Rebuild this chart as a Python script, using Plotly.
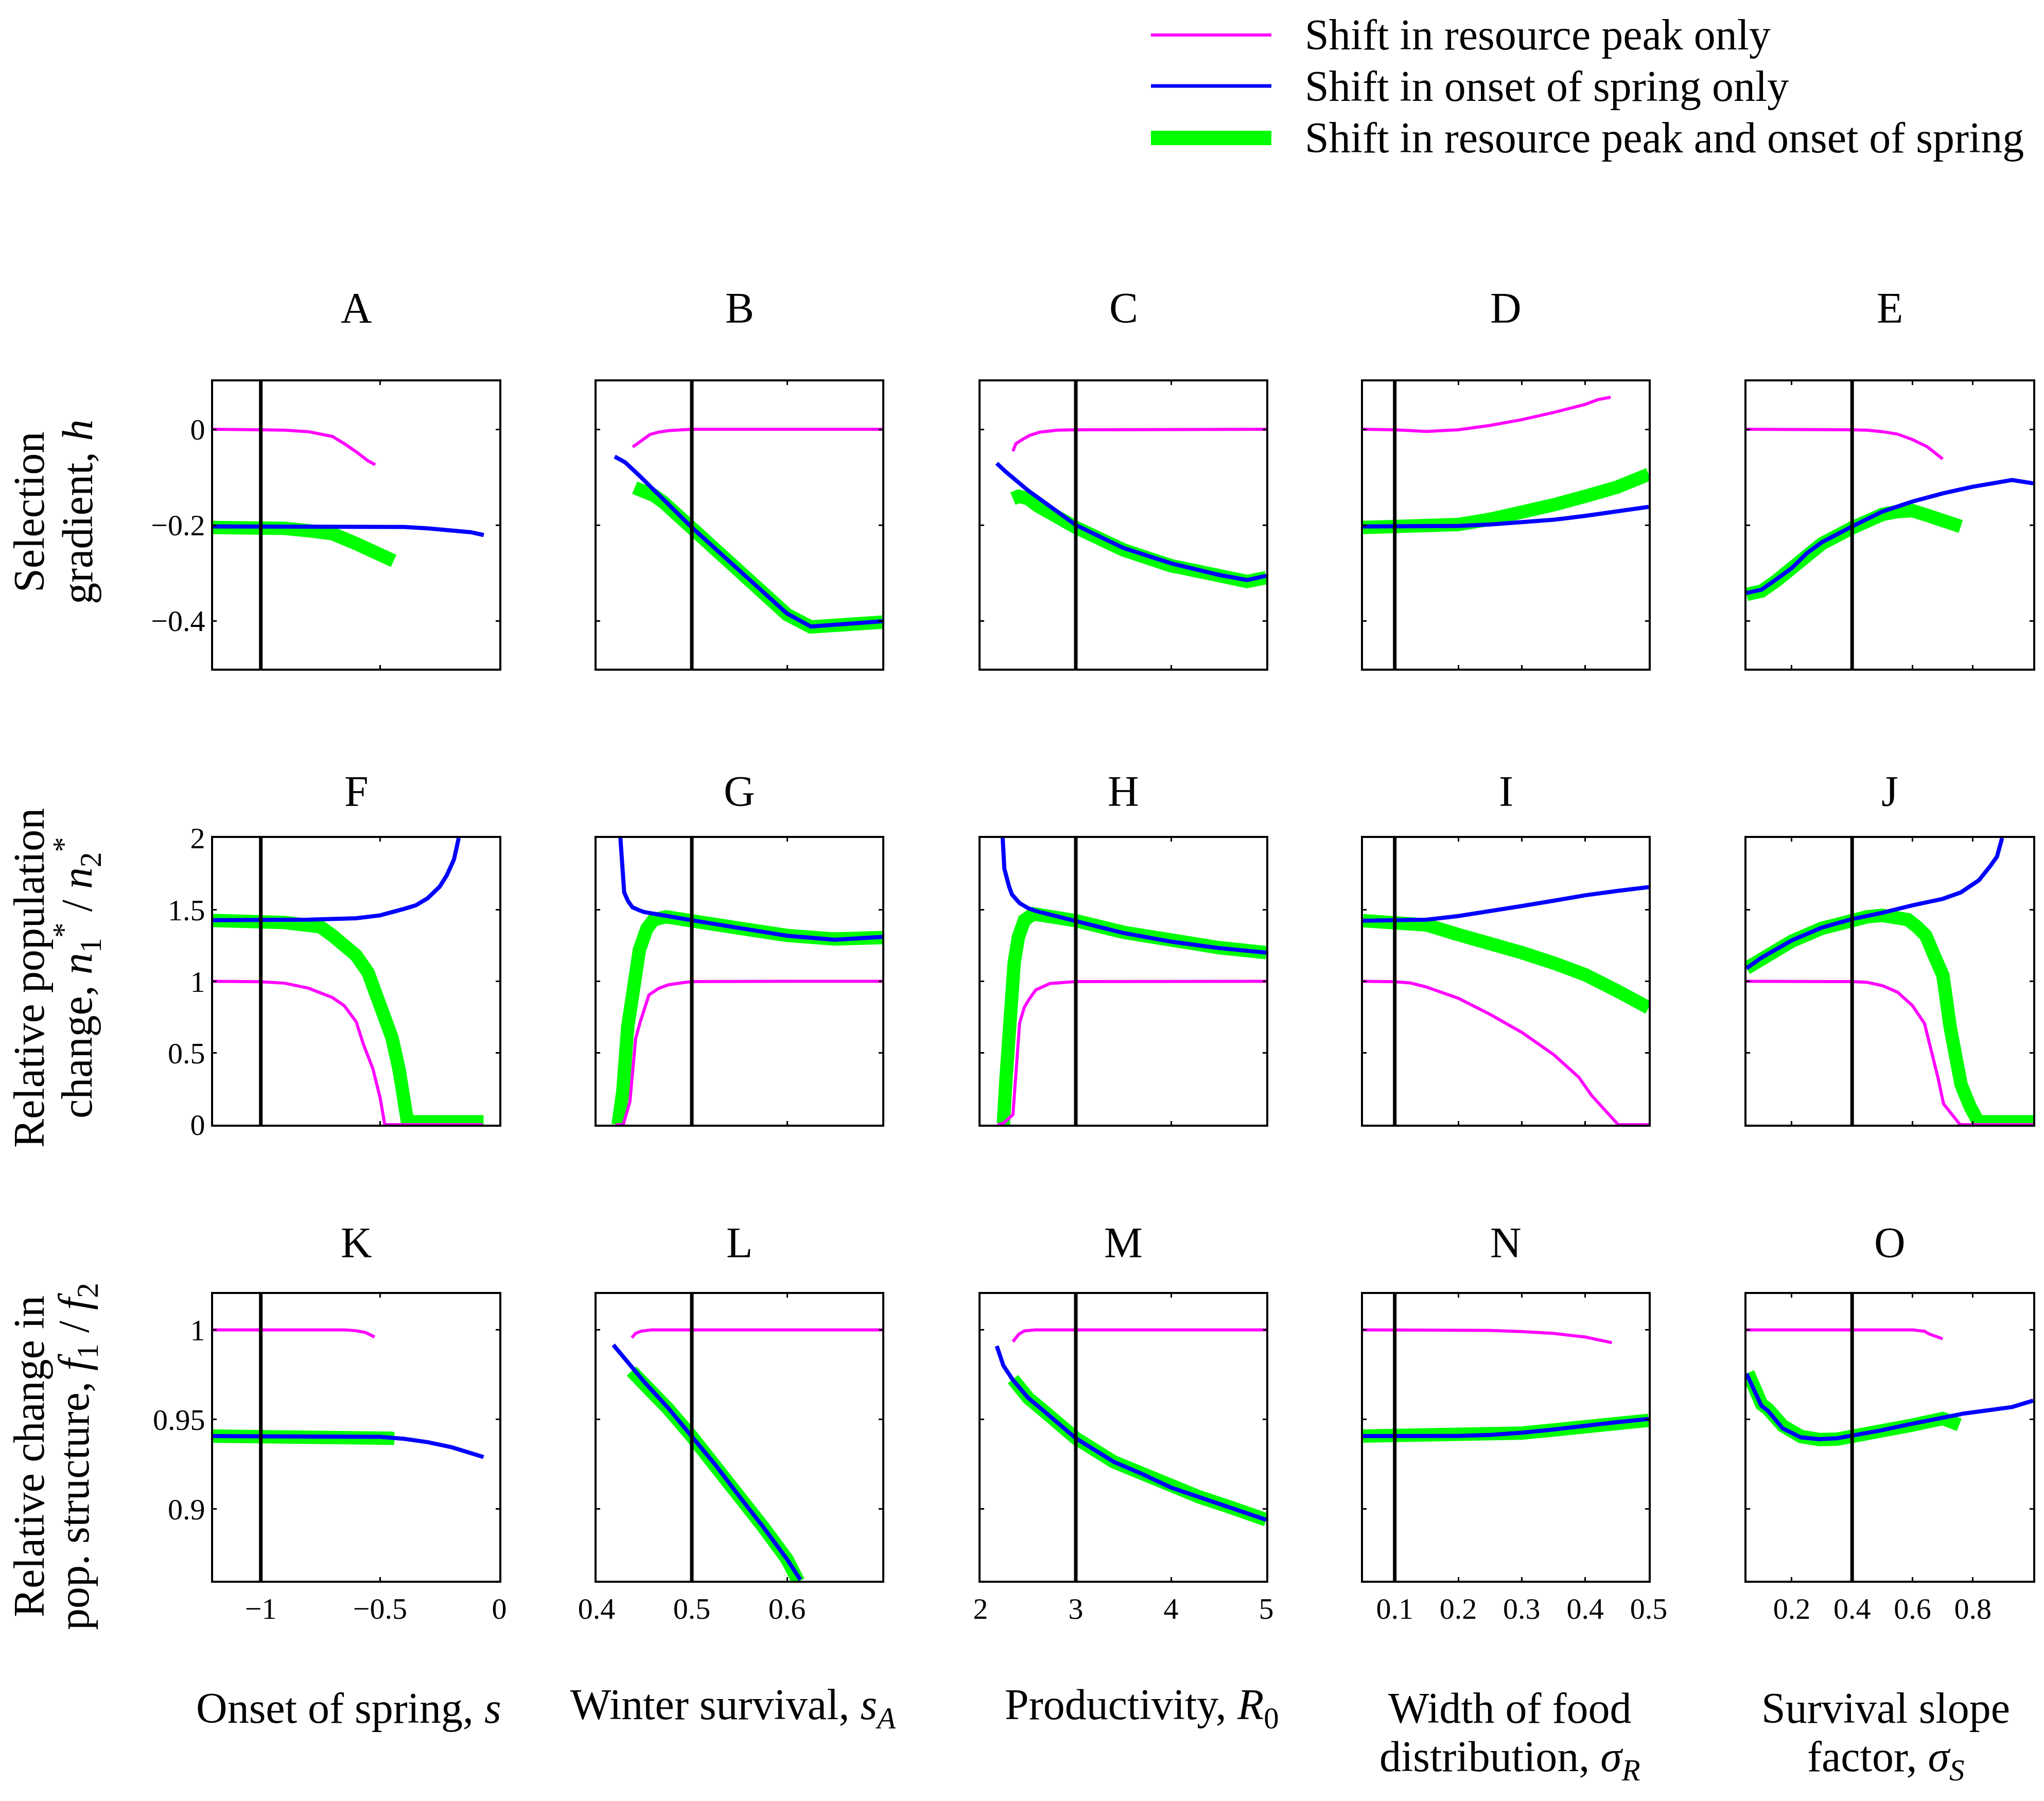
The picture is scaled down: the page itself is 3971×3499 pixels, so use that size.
import plotly.graph_objects as go
from plotly.subplots import make_subplots

# values
# peak = shift in resource peak only, spring = shift in onset of spring only,
# both = shift in resource peak and onset of spring

# row 1: selection gradient h
A_peak_x = [-1.2, -1.1, -1.0, -0.9, -0.8, -0.7, -0.65, -0.6, -0.55, -0.52]
A_peak_y = [0.0, 0.0, -0.001, -0.002, -0.005, -0.015, -0.030, -0.047, -0.066, -0.074]
A_spring_x = [-1.2, -1.0, -0.8, -0.6, -0.4, -0.3, -0.2, -0.12, -0.065]
A_spring_y = [-0.203, -0.203, -0.203, -0.203, -0.204, -0.207, -0.212, -0.215, -0.221]
A_both_x = [-1.2, -1.0, -0.9, -0.8, -0.7, -0.6, -0.5, -0.443]
A_both_y = [-0.205, -0.205, -0.207, -0.212, -0.218, -0.239, -0.261, -0.275]

B_peak_x = [0.438, 0.445, 0.456, 0.465, 0.475, 0.49, 0.5, 0.55, 0.6, 0.7]
B_peak_y = [-0.037, -0.027, -0.011, -0.006, -0.003, -0.001, 0.0, 0.0, 0.0, 0.0]
B_spring_x = [0.419, 0.43, 0.445, 0.5, 0.55, 0.6, 0.625, 0.65, 0.7]
B_spring_y = [-0.057, -0.069, -0.097, -0.205, -0.295, -0.385, -0.412, -0.408, -0.401]
B_both_x = [0.44, 0.448, 0.46, 0.47, 0.5, 0.55, 0.6, 0.625, 0.7]
B_both_y = [-0.122, -0.128, -0.138, -0.152, -0.207, -0.297, -0.387, -0.413, -0.403]

C_peak_x = [2.34, 2.37, 2.45, 2.52, 2.62, 2.8, 3.0, 4.0, 5.0]
C_peak_y = [-0.046, -0.030, -0.020, -0.0125, -0.006, -0.002, -0.001, 0.0, 0.0]
C_spring_x = [2.17, 2.26, 2.5, 3.0, 3.5, 4.0, 4.5, 4.8, 5.0]
C_spring_y = [-0.071, -0.088, -0.128, -0.2, -0.248, -0.280, -0.304, -0.315, -0.306]
C_both_x = [2.34, 2.4, 2.5, 2.6, 3.0, 3.5, 4.0, 4.5, 4.8, 5.0]
C_both_y = [-0.145, -0.14, -0.145, -0.16, -0.205, -0.252, -0.285, -0.308, -0.318, -0.31]

D_peak_x = [0.05, 0.1, 0.15, 0.2, 0.25, 0.3, 0.35, 0.4, 0.42, 0.44]
D_peak_y = [0.0, -0.001, -0.0045, -0.001, 0.008, 0.02, 0.035, 0.052, 0.062, 0.067]
D_spring_x = [0.05, 0.1, 0.15, 0.2, 0.25, 0.3, 0.35, 0.4, 0.45, 0.5]
D_spring_y = [-0.203, -0.203, -0.203, -0.202, -0.199, -0.195, -0.189, -0.181, -0.172, -0.162]
D_both_x = [0.05, 0.1, 0.15, 0.2, 0.25, 0.3, 0.35, 0.4, 0.45, 0.5]
D_both_y = [-0.205, -0.205, -0.204, -0.199, -0.188, -0.175, -0.158, -0.140, -0.121, -0.094]

E_peak_x = [0.05, 0.2, 0.3, 0.4, 0.45, 0.5, 0.55, 0.6, 0.65, 0.7]
E_peak_y = [0.0, 0.0, 0.0, -0.001, -0.002, -0.005, -0.010, -0.0215, -0.037, -0.062]
E_spring_x = [0.05, 0.1, 0.15, 0.2, 0.25, 0.3, 0.4, 0.5, 0.6, 0.7, 0.8, 0.9, 0.93, 1.0]
E_spring_y = [-0.342, -0.335, -0.313, -0.29, -0.259, -0.236, -0.203, -0.172, -0.151, -0.134, -0.12, -0.108, -0.106, -0.113]
E_both_x = [0.05, 0.1, 0.15, 0.2, 0.25, 0.3, 0.4, 0.5, 0.55, 0.6, 0.65, 0.7, 0.76]
E_both_y = [-0.345, -0.338, -0.316, -0.293, -0.262, -0.239, -0.206, -0.178, -0.172, -0.170, -0.180, -0.192, -0.203]

# row 2: relative population change n1*/n2*
F_peak_x = [-1.2, -1.0, -0.9, -0.8, -0.7, -0.65, -0.6, -0.57, -0.53, -0.5, -0.48, -0.4, -0.2, -0.07]
F_peak_y = [1.0, 0.997, 0.987, 0.952, 0.887, 0.83, 0.718, 0.562, 0.39, 0.19, 0.0, 0.0, 0.0, 0.0]
F_spring_x = [-1.2, -1.0, -0.8, -0.6, -0.5, -0.4, -0.35, -0.3, -0.25, -0.22, -0.19, -0.17]
F_spring_y = [1.426, 1.426, 1.43, 1.44, 1.46, 1.505, 1.53, 1.58, 1.66, 1.74, 1.85, 2.0]
F_both_x = [-1.2, -1.0, -0.9, -0.8, -0.75, -0.7, -0.65, -0.6, -0.55, -0.5, -0.45, -0.42, -0.4, -0.385, -0.3, -0.2, -0.066]
F_both_y = [1.425, 1.42, 1.41, 1.39, 1.38, 1.32, 1.25, 1.18, 1.06, 0.86, 0.607, 0.383, 0.19, 0.02, 0.02, 0.02, 0.02]

G_peak_x = [0.42, 0.428, 0.435, 0.441, 0.446, 0.455, 0.465, 0.475, 0.49, 0.5, 0.6, 0.7]
G_peak_y = [0.0, 0.0, 0.16, 0.6, 0.72, 0.905, 0.95, 0.975, 0.99, 0.998, 1.0, 1.0]
G_spring_x = [0.425, 0.427, 0.429, 0.433, 0.4377, 0.445, 0.45, 0.5, 0.55, 0.6, 0.65, 0.7]
G_spring_y = [2.0, 1.85, 1.62, 1.56, 1.516, 1.495, 1.483, 1.426, 1.37, 1.318, 1.29, 1.31]
G_both_x = [0.4226, 0.4276, 0.4327, 0.4377, 0.445, 0.4528, 0.46, 0.473, 0.5, 0.55, 0.6, 0.65, 0.7]
G_both_y = [0.0, 0.234, 0.68, 0.98, 1.22, 1.367, 1.43, 1.45, 1.43, 1.37, 1.32, 1.295, 1.305]

H_peak_x = [2.18, 2.24, 2.34, 2.37, 2.41, 2.46, 2.51, 2.58, 2.73, 3.0, 4.0, 5.0]
H_peak_y = [0.0, 0.01, 0.07, 0.38, 0.71, 0.82, 0.875, 0.94, 0.985, 0.998, 1.0, 1.0]
H_spring_x = [2.232, 2.24, 2.25, 2.3, 2.33, 2.41, 2.5, 2.58, 3.0, 3.5, 4.0, 4.5, 5.0]
H_spring_y = [2.0, 1.9, 1.784, 1.66, 1.605, 1.545, 1.51, 1.49, 1.419, 1.337, 1.277, 1.232, 1.2]
H_both_x = [2.2, 2.24, 2.266, 2.29, 2.32, 2.353, 2.397, 2.46, 2.556, 2.68, 3.0, 3.5, 4.0, 4.5, 5.0]
H_both_y = [0.0, 0.01, 0.31, 0.607, 0.905, 1.128, 1.307, 1.426, 1.47, 1.46, 1.423, 1.342, 1.28, 1.235, 1.2]

I_peak_x = [0.05, 0.1, 0.125, 0.15, 0.2, 0.25, 0.3, 0.33, 0.35, 0.37, 0.39, 0.41, 0.43, 0.452, 0.5]
I_peak_y = [1.0, 0.997, 0.988, 0.96, 0.882, 0.77, 0.644, 0.554, 0.49, 0.41, 0.33, 0.204, 0.105, 0.0, 0.0]
I_spring_x = [0.05, 0.1, 0.15, 0.2, 0.25, 0.3, 0.35, 0.4, 0.45, 0.5]
I_spring_y = [1.423, 1.423, 1.43, 1.455, 1.488, 1.525, 1.562, 1.6, 1.63, 1.657]
I_both_x = [0.05, 0.1, 0.15, 0.2, 0.25, 0.3, 0.35, 0.4, 0.45, 0.5]
I_both_y = [1.423, 1.418, 1.393, 1.326, 1.27, 1.2, 1.128, 1.046, 0.934, 0.815]

J_peak_x = [0.05, 0.2, 0.4, 0.45, 0.5, 0.55, 0.6, 0.64, 0.66, 0.685, 0.703, 0.73, 0.758, 0.9, 1.0]
J_peak_y = [1.0, 1.0, 0.998, 0.993, 0.97, 0.925, 0.83, 0.705, 0.54, 0.323, 0.145, 0.07, 0.0, 0.0, 0.0]
J_spring_x = [0.05, 0.1, 0.2, 0.3, 0.4, 0.5, 0.6, 0.7, 0.76, 0.82, 0.86, 0.88, 0.897]
J_spring_y = [1.091, 1.165, 1.285, 1.375, 1.434, 1.478, 1.53, 1.575, 1.62, 1.705, 1.81, 1.87, 2.0]
J_both_x = [0.05, 0.1, 0.2, 0.3, 0.4, 0.45, 0.5, 0.55, 0.585, 0.615, 0.644, 0.67, 0.701, 0.725, 0.745, 0.761, 0.79, 0.818, 0.9, 1.0]
J_both_y = [1.091, 1.16, 1.28, 1.37, 1.43, 1.45, 1.46, 1.455, 1.43, 1.38, 1.32, 1.19, 1.04, 0.68, 0.45, 0.28, 0.13, 0.02, 0.02, 0.02]

# row 3: relative change in population structure f1/f2
K_peak_x = [-1.2, -0.8, -0.65, -0.6, -0.56, -0.523]
K_peak_y = [1.0, 1.0, 1.0, 0.9995, 0.9985, 0.996]
K_spring_x = [-1.2, -0.8, -0.6, -0.5, -0.4, -0.3, -0.2, -0.12, -0.066]
K_spring_y = [0.9407, 0.9407, 0.9406, 0.9403, 0.9392, 0.9373, 0.9345, 0.9315, 0.929]
K_both_x = [-1.2, -1.0, -0.8, -0.6, -0.5, -0.44]
K_both_y = [0.9407, 0.9407, 0.9407, 0.9405, 0.9402, 0.9395]

L_peak_x = [0.437, 0.441, 0.447, 0.458, 0.5, 0.7]
L_peak_y = [0.9956, 0.998, 0.9993, 1.0, 1.0, 1.0]
L_spring_x = [0.4176, 0.425, 0.4327, 0.45, 0.475, 0.5, 0.525, 0.55, 0.575, 0.6, 0.614]
L_spring_y = [0.9916, 0.987, 0.9814, 0.971, 0.9565, 0.9405, 0.9245, 0.907, 0.890, 0.872, 0.8605]
L_both_x = [0.4367, 0.45, 0.475, 0.5, 0.525, 0.55, 0.575, 0.6, 0.612]
L_both_y = [0.977, 0.9705, 0.956, 0.9405, 0.9245, 0.907, 0.89, 0.872, 0.8595]

M_peak_x = [2.34, 2.37, 2.4, 2.46, 2.58, 3.0, 5.0]
M_peak_y = [0.9934, 0.9955, 0.9975, 0.9994, 1.0, 1.0, 1.0]
M_spring_x = [2.17, 2.24, 2.34, 2.5, 2.68, 3.0, 3.4, 3.7, 4.0, 4.3, 4.6, 5.0]
M_spring_y = [0.991, 0.980, 0.972, 0.962, 0.954, 0.9395, 0.9263, 0.9195, 0.912, 0.9067, 0.9014, 0.894]
M_both_x = [2.34, 2.5, 2.68, 3.0, 3.4, 3.7, 4.0, 4.3, 4.6, 5.0]
M_both_y = [0.9725, 0.962, 0.954, 0.9395, 0.9263, 0.9195, 0.912, 0.9067, 0.9014, 0.894]

N_peak_x = [0.05, 0.1, 0.2, 0.25, 0.3, 0.35, 0.4, 0.442]
N_peak_y = [1.0, 1.0, 1.0, 0.9997, 0.999, 0.998, 0.996, 0.9928]
N_spring_x = [0.05, 0.1, 0.15, 0.2, 0.25, 0.3, 0.35, 0.4, 0.45, 0.5]
N_spring_y = [0.9407, 0.9407, 0.9407, 0.9408, 0.9414, 0.9426, 0.9444, 0.9466, 0.9485, 0.9503]
N_both_x = [0.05, 0.1, 0.15, 0.2, 0.25, 0.3, 0.35, 0.4, 0.45, 0.5]
N_both_y = [0.9407, 0.9407, 0.9407, 0.9408, 0.9413, 0.9424, 0.9441, 0.946, 0.9478, 0.9495]

O_peak_x = [0.05, 0.3, 0.5, 0.6, 0.64, 0.655, 0.7]
O_peak_y = [1.0, 1.0, 1.0, 1.0, 0.9992, 0.9977, 0.995]
O_spring_x = [0.05, 0.1, 0.12, 0.17, 0.23, 0.29, 0.35, 0.4, 0.49, 0.59, 0.7, 0.77, 0.93, 1.0]
O_spring_y = [0.9755, 0.9575, 0.955, 0.945, 0.940, 0.939, 0.9395, 0.941, 0.9437, 0.9473, 0.9511, 0.9533, 0.9569, 0.9605]
O_both_x = [0.055, 0.1, 0.12, 0.17, 0.23, 0.29, 0.35, 0.4, 0.49, 0.59, 0.7, 0.74, 0.755]
O_both_y = [0.976, 0.9585, 0.956, 0.9465, 0.9405, 0.9388, 0.939, 0.9403, 0.9428, 0.9465, 0.9505, 0.949, 0.947]

panel_letters = ["A", "B", "C", "D", "E", "F", "G", "H", "I", "J", "K", "L", "M", "N", "O"]
series_names = ["Shift in resource peak only", "Shift in onset of spring only",
                "Shift in resource peak and onset of spring"]

# reference (default) parameter value for each column
ref_values = [-1.0, 0.5, 3.0, 0.1, 0.4]

x_ranges = [[-1.2, 0.0], [0.4, 0.7], [2.0, 5.0], [0.05, 0.5], [0.05, 1.0]]
x_tickvals = [[-1, -0.5, 0], [0.4, 0.5, 0.6], [2, 3, 4, 5], [0.1, 0.2, 0.3, 0.4, 0.5], [0.2, 0.4, 0.6, 0.8]]
x_ticktext = [["\u22121", "\u22120.5", "0"], ["0.4", "0.5", "0.6"], ["2", "3", "4", "5"],
              ["0.1", "0.2", "0.3", "0.4", "0.5"], ["0.2", "0.4", "0.6", "0.8"]]
y_ranges = [[-0.5, 0.1], [0.0, 2.0], [0.86, 1.02]]
y_tickvals = [[-0.4, -0.2, 0], [0, 0.5, 1, 1.5, 2], [0.9, 0.95, 1]]
y_ticktext = [["\u22120.4", "\u22120.2", "0"], ["0", "0.5", "1", "1.5", "2"], ["0.9", "0.95", "1"]]

x_titles = [["Onset of spring, <i>s</i>"],
            ["Winter survival, <i>s<sub>A</sub></i>"],
            ["Productivity, <i>R</i><sub>0</sub>"],
            ["Width of food", "distribution, <i>\u03c3<sub>R</sub></i>"],
            ["Survival slope", "factor, <i>\u03c3<sub>S</sub></i>"]]
y_titles = [["Selection", "gradient, <i>h</i>"],
            ["Relative population", "change, <i>n</i><sub>1</sub><sup>*</sup> / <i>n</i><sub>2</sub><sup>*</sup>"],
            ["Relative change in", "pop. structure, <i>f</i><sub>1</sub> / <i>f</i><sub>2</sub>"]]

data = globals()

W, H = 3971, 3499
FONT = "Liberation Serif, Times New Roman, serif"
colors = ["#ff00ff", "#0000ff", "#00ff00"]
widths = [6, 8, 26]

# panel frames in pixels (left/right per column, top/bottom per row)
col_px = [(414, 970), (1159, 1714), (1905, 2460), (2648, 3203), (3393, 3950)]
row_px = [(741, 1299), (1628, 2185), (2514, 3071)]

fig = make_subplots(rows=3, cols=5)

for r in range(3):
    for c in range(5):
        letter = panel_letters[r * 5 + c]
        # draw order: combined (thick green) below, then spring, then peak
        for key, k in [("both", 2), ("spring", 1), ("peak", 0)]:
            fig.add_trace(go.Scatter(
                x=data[letter + "_" + key + "_x"], y=data[letter + "_" + key + "_y"],
                mode="lines", name=series_names[k], showlegend=False,
                line=dict(color=colors[k], width=widths[k])), row=r + 1, col=c + 1)
        fig.add_vline(x=ref_values[c], line_color="black", line_width=7, row=r + 1, col=c + 1)

tick_font = dict(size=58, color="black", family=FONT)
for r in range(3):
    for c in range(5):
        i = r * 5 + c + 1
        sfx = "" if i == 1 else str(i)
        x0, x1 = col_px[c]
        t, b = row_px[r]
        fig.layout["xaxis" + sfx].update(
            domain=[x0 / W, x1 / W], range=x_ranges[c], automargin=False,
            tickvals=x_tickvals[c], ticktext=x_ticktext[c], showticklabels=(r == 2),
            ticks="inside", ticklen=7, tickwidth=3, tickcolor="black",
            showline=True, linecolor="black", linewidth=4, mirror="ticks",
            showgrid=False, zeroline=False, tickfont=tick_font)
        fig.layout["yaxis" + sfx].update(
            domain=[1 - b / H, 1 - t / H], range=y_ranges[r], automargin=False,
            tickvals=y_tickvals[r], ticktext=y_ticktext[r], showticklabels=(c == 0),
            ticks="inside", ticklen=7, tickwidth=3, tickcolor="black",
            showline=True, linecolor="black", linewidth=4, mirror="ticks",
            showgrid=False, zeroline=False, tickfont=tick_font)

annotations = []
big = dict(size=84, color="black", family=FONT)

# panel letters
letter_y = [598, 1537, 2414]
for r in range(3):
    for c in range(5):
        x0, x1 = col_px[c]
        annotations.append(dict(text=panel_letters[r * 5 + c], x=(x0 + x1) / 2 / W, y=1 - letter_y[r] / H,
                                xref="paper", yref="paper", showarrow=False, font=big,
                                xanchor="center", yanchor="middle"))

# x-axis titles under the bottom row
x_title_cx = [677, 1424, 2218, 2933, 3663]
x_title_y = [3318, 3419]
for c in range(5):
    for j, line in enumerate(x_titles[c]):
        annotations.append(dict(text=line, x=x_title_cx[c] / W, y=1 - x_title_y[j] / H,
                                xref="paper", yref="paper", showarrow=False, font=big,
                                xanchor="center", yanchor="middle"))

# y-axis titles, two rotated lines each
y_title_cx = [56, 150]
y_title_cy = [995, 1900, 2830]
for r in range(3):
    for j, line in enumerate(y_titles[r]):
        annotations.append(dict(text=line, x=y_title_cx[j] / W, y=1 - y_title_cy[r] / H,
                                xref="paper", yref="paper", showarrow=False, font=big,
                                textangle=-90, xanchor="center", yanchor="middle"))

# legend drawn by hand, top right
legend_y = [68, 167, 268]
legend_w = [6, 7, 28]
shapes = []
for k in range(3):
    shapes.append(dict(type="line", xref="paper", yref="paper",
                       x0=2236 / W, x1=2470 / W, y0=1 - legend_y[k] / H, y1=1 - legend_y[k] / H,
                       line=dict(color=colors[k], width=legend_w[k])))
    annotations.append(dict(text=series_names[k], x=2533 / W, y=1 - legend_y[k] / H,
                            xref="paper", yref="paper", showarrow=False, font=big,
                            xanchor="left", yanchor="middle"))

fig.update_layout(
    width=W, height=H,
    margin=dict(l=0, r=0, t=0, b=0, pad=0, autoexpand=False),
    paper_bgcolor="white", plot_bgcolor="white",
    font=dict(family=FONT, color="black"),
    showlegend=False,
    annotations=annotations,
)
for s in shapes:
    fig.add_shape(s)

fig.write_html("out.html", config={"displayModeBar": False},
               post_script="document.body.style.margin='0';")
